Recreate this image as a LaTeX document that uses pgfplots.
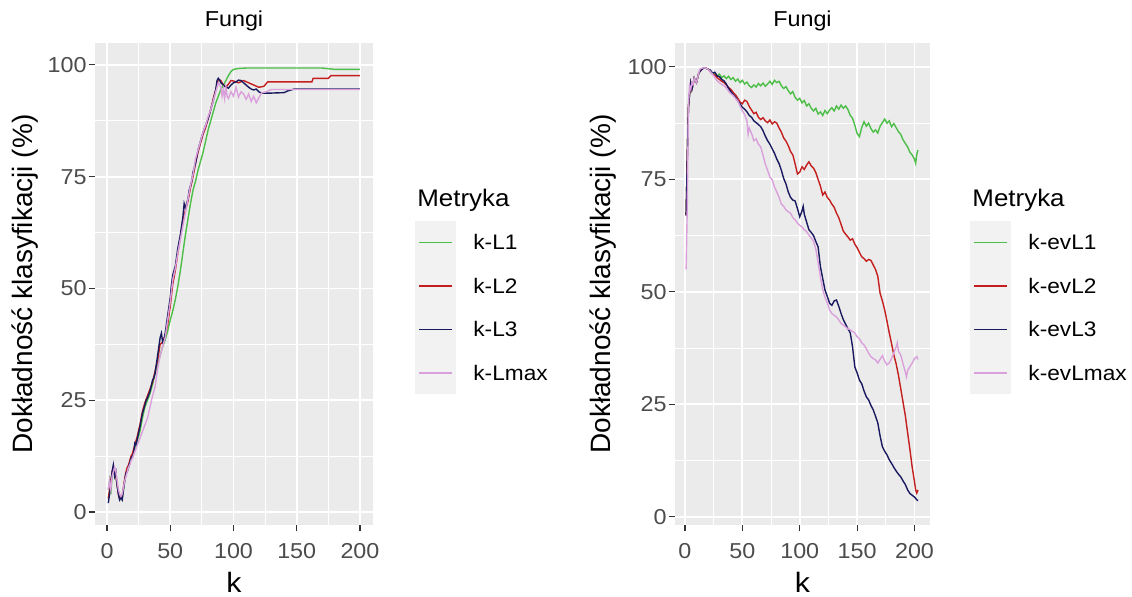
\documentclass[border=0pt]{standalone}
\usepackage{fontspec}
\setmainfont{Liberation Sans}[FakeStretch=1.08]
\newfontfamily\yfont{Liberation Sans}
\usepackage{pgfplots}
\pgfplotsset{compat=1.18}

\definecolor{cL1}{RGB}{77,190,72}
\definecolor{cL2}{RGB}{196,30,30}
\definecolor{cL3}{RGB}{25,25,95}
\definecolor{cLmax}{RGB}{218,160,220}

\pgfplotsset{
  gg/.style={
    scale only axis, anchor=south west,
    axis background/.style={fill=black!8},
    axis x line*=bottom, axis y line*=left, axis line style={draw=none},
    xtick={0,50,...,200}, ytick={0,25,...,100}, minor tick num=1,
    grid=both,
    major grid style={white, line width=0.9pt},
    minor grid style={white, line width=0.45pt},
    tick align=outside, major tick length=3.2pt, minor tick length=0pt,
    tick style={draw=black!80, line width=0.55pt},
    /pgf/number format/assume math mode=true,
    xticklabel style={font=\fontsize{10.8}{12}\selectfont, text=black!70, anchor=north, inner sep=0pt, yshift=-5.8pt},
    yticklabel style={font=\fontsize{10.8}{12}\selectfont, text=black!70, anchor=east, inner sep=0pt, xshift=-0.8pt},
    xlabel={k},
    xlabel style={at={(axis description cs:0.5,-0.139)}, anchor=base, font=\fontsize{14}{16}\selectfont},
    ylabel={Dokładność klasyfikacji (\%)},
    ylabel style={rotate=0, anchor=center, font=\yfont\fontsize{14}{16}\selectfont},
    clip mode=individual,
    legend cell align=left,
    legend style={draw=none, fill=none, inner sep=0pt, outer sep=0pt, anchor=north west,
      font=\fontsize{10.5}{12}\selectfont, row sep=0pt,
      nodes={inner sep=0pt, anchor=base west},
      /tikz/every odd column/.append style={column sep=8.5pt}},
    legend image code/.code={
      \fill[black!5] (0pt,-6.8pt) rectangle (20pt,14.2pt);
      \draw[##1, line width=0.8pt] (1.8pt,3.7pt) -- (18.2pt,3.7pt);},
    every axis plot/.append style={line width=0.7pt, no markers},
  }
}

\begin{document}
\begin{tikzpicture}
\path[use as bounding box] (0,0) rectangle (566pt,298pt);

% ---- left panel: k-L metrics
\begin{axis}[gg, at={(47.5pt,35.5pt)}, width=139pt, height=241pt,
  xmin=-9.5, xmax=210.3, ymin=-2.9, ymax=104.9,
  ylabel style={at={(axis description cs:-0.252,0.5)}},
  legend style={at={(axis description cs:1.151,0.631)}},
]
\addplot[cL1] coordinates {
(1,5)(2,7)(3,4)(4,8)(5,10)(6,9)(7,8)(8,6)(9,4.5)(10,3)(11,3.5)(12,3)(13,5)(14,7)(15,8.5)(16,9.5)(17,10)(18,11)(19,12)(20,12.5)
(22,14)(24,16)(26,18)(28,21)(30,23.5)(32,25)(34,26.5)(36,28.5)(38,31)(40,33)(42,35)(44,37)(46,38.5)(48,40.5)(50,43)
(52,45)(54,47.5)(56,50.5)(58,54)(60,58)(62,62)(64,65.5)(66,69)(68,72)(70,74)(72,76.5)(74,78.5)(76,80.5)(78,83)(80,85.5)
(82,87.5)(84,89.5)(86,91.5)(88,93)(90,94.5)(92,95.5)(94,96.5)(96,97.6)(98,98.5)(100,99)(104,99.2)(110,99.3)(170,99.3)(180,99.0)(200,99.0)
};
\addplot[cL2] coordinates {
(1,3)(2,5)(3,7)(4,9)(5,10)(6,8.5)(7,8)(8,6)(9,4)(10,3)(11,3.5)(12,3.5)(13,5.5)(14,7.5)(15,9)(16,10)(17,10.5)(18,11.5)(19,12.5)(20,13)
(22,15)(24,17)(26,19.5)(28,22.5)(30,24.5)(32,26)(34,27.5)(36,29)(38,31.5)(40,34)(42,37.5)(44,38)(46,39.5)(48,42)(50,46)
(52,51)(54,54)(56,58)(58,61.5)(60,65)(62,67.5)(64,69.5)(66,72.5)(68,75)(70,78)(72,80.5)(74,82.5)(76,84.5)(78,86)(80,88)
(82,90)(84,92.5)(86,94.5)(88,96.8)(90,96.5)(92,95.5)(94,95)(96,95.7)(98,96.5)(100,96.4)(104,96)(108,96.5)(112,96)(116,95.5)
(120,95)(124,95.2)(127,96.2)(162,96.2)(163,97)(175,97)(177,97.6)(200,97.6)
};
\addplot[cL3] coordinates {
(1,2)(2,4)(3,6)(4,9)(5,10.5)(6,8)(7,9)(8,6)(9,4)(10,2.7)(11,3.2)(12,2.7)(13,5)(14,7)(15,8.7)(16,9)(17,10)(18,11)(19,12)(20,12.5)
(21,13)(22,15.4)(23,15)(24,16.5)(26,19)(28,22)(30,24)(31,25)(32,25.5)(34,27)(36,29.5)(37,30)(38,31)(39,33)(40,35)(41,37)
(42,39)(43,40)(44,38)(45,38.5)(46,40)(47,42)(48,44)(49,46)(50,48)(51,51)(52,53)(54,55)(56,59)(58,62)(60,66)(61,69)(62,68)
(64,70)(65,72)(67,74)(68,76)(70,78)(72,81)(74,83)(76,85)(78,86.5)(80,88)(82,90)(84,92)(86,94.5)(87,96.5)(88,97)(89,96.6)
(90,96)(92,95.5)(94,95)(96,94.8)(98,95.5)(100,96)(102,96.2)(104,96.6)(106,96.5)(108,96)(110,95.5)(112,95)(114,94.6)
(116,94.4)(118,94.6)(120,94)(122,93.7)(130,93.7)(140,93.8)(143,94.2)(148,94.6)(200,94.6)
};
\addplot[cLmax] coordinates {
(1,5)(2,7)(3,5)(4,8)(5,9)(6,10)(7,9)(8,7)(9,5)(10,4)(11,3.5)(12,4)(13,5.5)(14,7)(15,8)(16,9)(17,10)(18,10.5)(19,11.5)(20,12)
(22,13.5)(24,15)(26,16.5)(28,18)(30,19.5)(32,21)(34,23.5)(36,26)(38,28)(40,32)(42,35)(44,37)(46,39)(48,43)(50,47)
(52,52)(54,54.5)(56,58)(58,61)(60,64)(62,67)(64,70)(66,73)(68,75.5)(70,79)(72,81)(74,83)(76,85)(78,86.5)(80,88.5)
(82,90)(84,92)(86,94)(88,96)(90,95)(91,93)(92,94.5)(93,92.5)(94,95)(95,93)(96,92.5)(98,94)(100,93)(102,95)(104,92.8)
(106,94)(108,93.5)(110,92.3)(112,93.5)(114,91.8)(116,93)(118,91.5)(120,92.6)(122,93.7)(126,94)(130,94.5)(200,94.5)
};
\legend{k-L1,k-L2,k-L3,k-Lmax}
\node[anchor=base, inner sep=0pt, font=\fontsize{10.8}{12}\selectfont] at (axis description cs:0.5,1.0332) {Fungi};
\node[anchor=base west, inner sep=0pt, font=\fontsize{12}{14}\selectfont] at (axis description cs:1.158,0.660) {Metryka};
\end{axis}

% ---- right panel: k-evL metrics
\begin{axis}[gg, at={(337.5pt,35.5pt)}, width=127.5pt, height=241pt,
  xmin=-8.7, xmax=213.5, ymin=-1.8, ymax=105.3,
  ylabel style={at={(axis description cs:-0.282,0.5)}},
  legend style={at={(axis description cs:1.157,0.631)}},
]
\addplot[cL1] coordinates {
(1,67)(2,80)(3,91)(4,94)(5,96.4)(6,95)(7,96)(8,97.5)(10,96.5)(12,98.6)(14,99.3)(16,99.7)(18,99.7)(20,99.5)(22,99)(24,98.4)
(26,98.6)(28,98)(30,98.4)(32,97.6)(34,98)(36,97.4)(38,97.9)(40,97.2)(42,97.6)(44,96.8)(46,97.3)(48,96.5)(50,97)(52,96.2)
(54,96.6)(56,95.8)(58,95.4)(60,96)(62,95.5)(64,96.3)(66,95.8)(68,96.4)(70,95.7)(72,96.2)(74,96.8)(76,96.1)(78,97)(80,96.5)
(82,96.8)(84,95.8)(86,95.2)(88,95.6)(90,94.7)(92,94)(94,94.5)(96,93.2)(98,92.6)(100,93)(102,92)(104,92.5)(106,91.3)(108,91.8)
(110,90.8)(112,90.2)(114,90.8)(116,89.5)(118,90)(120,89.2)(122,90.3)(124,89.6)(126,90.4)(128,90.9)(130,90.2)(132,91.3)
(134,90.6)(136,91.5)(138,90.8)(140,91.3)(142,90.5)(144,89.2)(146,88.6)(148,87)(150,85.2)(152,84.5)(154,86.5)(156,87.8)
(158,86.8)(160,87.5)(162,86.3)(164,85.5)(166,86)(168,85.3)(170,86.8)(172,87.6)(174,88.4)(176,87.5)(178,88)(180,86.7)
(182,87.4)(184,86.5)(186,85.6)(188,85)(190,83.8)(192,83)(194,82.2)(196,81)(198,80.4)(200,79.5)(201,78.6)(202,80.6)(203,81.5)
};
\addplot[cL2] coordinates {
(1,67)(2,80)(3,91)(4,94)(5,96.4)(6,95)(7,96)(8,97.5)(10,96.5)(12,98.6)(14,99.3)(16,99.7)(18,99.7)(20,99.5)(22,99)(24,98.4)
(26,98.2)(28,97.6)(30,97.2)(32,96.8)(34,96.5)(36,96)(38,95.4)(40,95)(42,94.3)(44,93.8)(46,93)(48,92.2)(50,91.8)(52,92.6)
(54,92.3)(56,91.2)(58,90.4)(60,89.6)(62,89.9)(64,88.8)(66,88.3)(68,88.7)(70,88)(72,87.6)(74,88.2)(76,87.3)(78,87.8)(80,87.5)
(82,86.4)(84,85.5)(86,84.2)(88,83.5)(90,82.5)(92,81.2)(94,80.4)(96,78.4)(98,76.2)(100,76.6)(102,77.8)(104,77.2)(106,78.2)
(108,78.9)(110,78)(112,77.5)(114,76.5)(116,75)(118,73.5)(120,71.5)(122,72.2)(124,71)(126,70.4)(128,69.5)(130,68.8)(132,67.5)
(134,66.5)(136,65)(138,63.5)(140,62.8)(142,62.2)(144,61.5)(146,61.8)(148,60.6)(150,59.8)(152,58.8)(154,57.8)(156,57.4)
(158,56.8)(160,57.2)(162,57)(164,56)(166,55)(168,53.5)(170,49.7)(172,48)(174,46)(176,43.5)(178,40.9)(180,38.5)(182,36)
(184,34)(186,31.5)(188,28.5)(190,25.5)(192,22.5)(194,18.7)(196,15)(198,11)(200,7.8)(201,6)(202,5.3)(203,6)
};
\addplot[cL3] coordinates {
(1,67)(2,80)(3,91)(4,94)(5,96.4)(6,95)(7,96)(8,97.5)(10,96.5)(12,98.6)(14,99.3)(16,99.7)(18,99.7)(20,99.5)(22,99.3)(24,98.6)
(26,98.8)(28,98)(30,97.8)(32,97.2)(34,96.9)(36,96.2)(38,95.2)(40,94.5)(42,93.8)(44,93.3)(46,92.4)(48,91.8)(50,91)(52,90.6)
(54,90)(56,89.2)(58,88.8)(60,88)(62,87.6)(64,87.2)(66,86.7)(68,85.8)(70,84.6)(72,83.6)(74,82.8)(76,81.8)(78,80.8)(80,79.5)
(82,78.5)(84,77)(86,75.2)(88,74)(90,72.2)(92,71)(94,70.4)(96,70.2)(98,68.5)(100,66.7)(102,68)(103,69)(104,67.2)(106,65.5)
(108,63.8)(110,63.2)(112,62.5)(114,61.2)(116,60)(118,55.6)(120,53)(122,50.4)(124,49)(126,47.5)(128,47)(130,48)(132,48.2)
(134,46.8)(136,45.2)(138,43.8)(140,42.8)(142,41.8)(144,40.9)(146,37.8)(148,33.3)(150,32)(152,30.4)(154,29.6)(156,28)
(158,26.7)(160,26)(162,24.8)(164,23.8)(166,22.4)(168,20.9)(170,18)(172,15.6)(174,14.6)(176,13.8)(178,12.7)(180,11.9)
(182,11)(184,10.2)(186,9.5)(188,8.9)(190,8)(192,7.2)(194,6)(196,5.2)(198,4.8)(200,4.4)(202,3.8)(203,3.6)
};
\addplot[cLmax] coordinates {
(1,55)(2,69)(3,91.8)(4,95.8)(5,95)(6,96.4)(7,96)(8,97.5)(10,96.5)(12,98.6)(13,99.5)(16,99.8)(18,99.7)(20,99.5)(22,99)(24,98.4)
(26,97.6)(28,96.9)(30,96.5)(32,96.1)(34,95.8)(36,95.3)(38,94.6)(40,94)(42,93.6)(44,93)(46,92.4)(48,91.3)(50,90.2)(52,89.4)
(54,88)(55,85)(56,86.4)(58,85.2)(60,83.6)(62,84)(64,82.8)(66,82.2)(68,80.4)(70,78.4)(72,77)(74,75.5)(76,74.9)(78,73.3)
(80,72.2)(82,71)(84,69.5)(86,69)(88,68.2)(90,67.8)(92,67.5)(94,66.5)(96,66)(98,65.3)(100,64.8)(102,64.4)(104,63.8)(106,63.4)
(108,62.6)(110,62)(112,61.2)(114,59.5)(116,56.5)(118,53.3)(120,50.5)(122,48.8)(124,47.6)(126,46)(128,45.2)(130,44.8)
(132,44.4)(134,43.8)(136,43)(138,42.6)(140,42.2)(142,41.8)(144,41.6)(146,41.2)(148,40.9)(150,40)(152,39.6)(154,38.7)
(156,38.2)(158,37.4)(160,36.4)(162,35.6)(164,35.2)(166,34.9)(168,34.2)(170,35)(172,35.8)(174,34.6)(176,33.8)(178,34.2)
(180,35.2)(182,36.5)(184,37.8)(185,38.7)(186,36.8)(188,36)(190,34)(192,32.2)(193,31.1)(194,32.5)(196,33.4)(198,34.2)
(200,35.2)(202,35.6)(203,35)
};
\legend{k-evL1,k-evL2,k-evL3,k-evLmax}
\node[anchor=base, inner sep=0pt, font=\fontsize{10.8}{12}\selectfont] at (axis description cs:0.5,1.0332) {Fungi};
\node[anchor=base west, inner sep=0pt, font=\fontsize{12}{14}\selectfont] at (axis description cs:1.165,0.660) {Metryka};
\end{axis}
\end{tikzpicture}
\end{document}
